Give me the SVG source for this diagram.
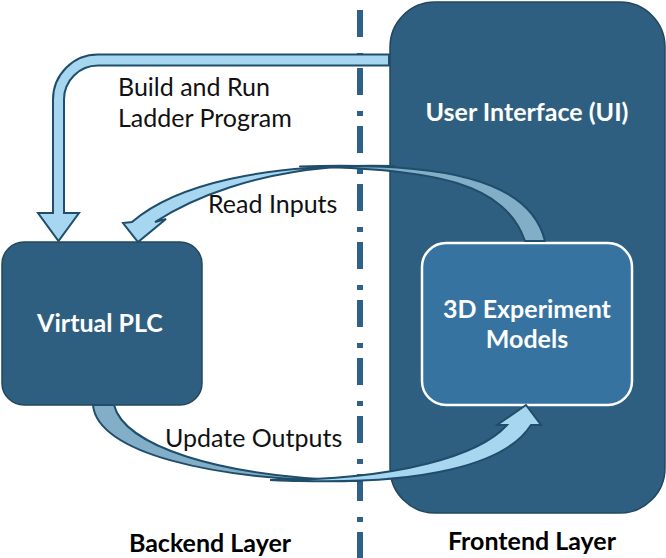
<svg xmlns="http://www.w3.org/2000/svg" width="666" height="558" viewBox="0 0 666 558">
<style>
  .box{fill:#2f5f80;stroke:#22485f;stroke-width:1.5}
  .inner{fill:#3673a0;stroke:#ffffff;stroke-width:2.5}
  .lbl{font-family:Lato,"Liberation Sans",sans-serif;font-size:25px;fill:#111}
  .wlbl{font-family:Lato,"Liberation Sans",sans-serif;font-size:25px;font-weight:bold;fill:#ffffff}
  .blbl{font-family:Lato,"Liberation Sans",sans-serif;font-size:25px;font-weight:bold;fill:#000}
  .light{fill:#a6d6f0;stroke:#1f4d6b;stroke-width:2;stroke-linejoin:miter}
  .dark{fill:#82afc7;stroke:#1f4d6b;stroke-width:2;stroke-linejoin:round}
  .sep{stroke:#2e6088;stroke-width:6;stroke-dasharray:27 16 5 10;fill:none}
</style>
<rect width="666" height="558" fill="#ffffff"/>
<line class="sep" x1="360" y1="0" x2="360" y2="558" stroke-dashoffset="48"/>
<g id="node-ui">
  <rect class="box" x="390" y="2" width="275" height="511" rx="45"/>
  <text class="wlbl" x="527" y="121" text-anchor="middle">User Interface (UI)</text>
</g>
<g id="node-3d">
  <rect class="inner" x="422" y="243" width="210" height="162" rx="24"/>
  <text class="wlbl" x="527" y="318" text-anchor="middle">3D Experiment</text>
  <text class="wlbl" x="527" y="348" text-anchor="middle">Models</text>
</g>
<g id="node-plc">
  <rect class="box" x="2" y="242" width="200" height="163" rx="22"/>
  <text class="wlbl" x="100" y="332" text-anchor="middle">Virtual PLC</text>
</g>
<g id="connectors">
  <path class="light" d="M389,54.5 H98 A45 45 0 0 0 53 99.5 V213 H38 L58.5,241 L79,213 H64 V99.5 A34 34 0 0 1 98 65.5 H389 Z"/>
  <path class="dark" d="M300,166.5 C440,162 530,178 545,241 L525,241 C505,185 440,168 300,166.5 Z"/>
  <path class="light" d="M395,166 C262,163 175,185 132,222 L123,223 L138,242 L166,219 L155,222 C195,196 255,174 330,167.5 C350,166.5 370,166 395,166 Z"/>
  <path class="dark" d="M93,405 C97,452 210,481 360,481 C215,477 124,445 114,405 Z"/>
  <path class="light" d="M270,480 C400,480 480,455 507,425 L497,425 L526,405 L541,425 L531,425 C505,466 420,484 300,481 C290,481 280,480.5 270,480 Z"/>
</g>
<g id="labels">
  <text class="lbl" x="118" y="96">Build and Run</text>
  <text class="lbl" x="118" y="127">Ladder Program</text>
  <text class="lbl" x="208" y="213">Read Inputs</text>
  <text class="lbl" x="165" y="447">Update Outputs</text>
  <text class="blbl" x="210" y="552" text-anchor="middle">Backend Layer</text>
  <text class="blbl" x="532" y="550" text-anchor="middle">Frontend Layer</text>
</g>
</svg>
